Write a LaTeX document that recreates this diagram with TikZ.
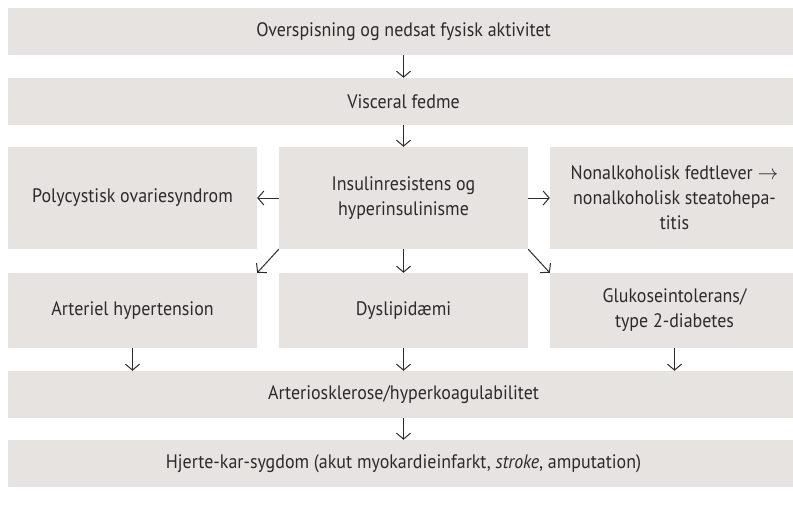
\documentclass[tikz,border=0pt]{standalone}
\usepackage{fontspec}
\setmainfont[FakeStretch=0.92]{PT Sans}
\usepackage{amssymb, amsmath}
\usepackage{tikz}
\usetikzlibrary{arrows.meta}
\definecolor{feltgraa}{HTML}{E7E3E0}
\definecolor{tekst}{HTML}{2B2B2B}

\begin{document}
\begin{tikzpicture}[>={Straight Barb[length=6pt,width=14pt]}, x=1pt, y=-1pt]
\tikzstyle{felt}=[fill=feltgraa,text=tekst,align=center,inner sep=0pt,
  font=\fontsize{19.5}{25}\selectfont];
\tikzstyle{bred}=[felt,minimum width=791pt,minimum height=47pt];
\tikzstyle{smal}=[felt,minimum width=249pt];
\tikzstyle{pil}=[->,draw=tekst,line width=1pt];
\useasboundingbox (0,0) rectangle (793,511);
% boxes
%   rows 1-2
    \node[bred] (spis) at (403.5,31.5) {Overspisning og nedsat fysisk aktivitet};
    \node[bred] (fedme) at (403.5,101.5) {Visceral fedme};
%   row 3
    \node[smal,minimum height=102pt] (pcos) at (132.5,198) {Polycystisk ovariesyndrom};
    \node[smal,minimum height=102pt] (insulin) at (403.5,198) {Insulinresistens og\\hyperinsulinisme};
    \node[smal,minimum height=102pt] (lever) at (674.5,198) {Nonalkoholisk fedtlever $\rightarrow$\\nonalkoholisk steatohepa-\\titis};
%   row 4
    \node[smal,minimum height=75pt] (hyper) at (132.5,310.5) {Arteriel hypertension};
    \node[smal,minimum height=75pt] (dysl) at (403.5,310.5) {Dyslipidæmi};
    \node[smal,minimum height=75pt] (gluk) at (674.5,310.5) {Glukoseintolerans/\\type 2-diabetes};
%   rows 5-6
    \node[bred] (skler) at (403.5,394.5) {Arteriosklerose/hyperkoagulabilitet};
    \node[bred] (hjerte) at (403.5,463.5) {Hjerte-kar-sygdom (akut myokardieinfarkt, \textit{stroke}, amputation)};
% arrows
    \draw[pil] (spis) -- (fedme);
    \draw[pil] (fedme) -- (insulin);
    \draw[pil] (insulin) -- (pcos);
    \draw[pil] (insulin) -- (lever);
    \draw[pil] (insulin.south west) -- (hyper.north east);
    \draw[pil] (insulin) -- (dysl);
    \draw[pil] (insulin.south east) -- (gluk.north west);
    \draw[pil] (hyper) -- (hyper |- skler.north);
    \draw[pil] (dysl) -- (skler);
    \draw[pil] (gluk) -- (gluk |- skler.north);
    \draw[pil] (skler) -- (hjerte);
\end{tikzpicture}
\end{document}
